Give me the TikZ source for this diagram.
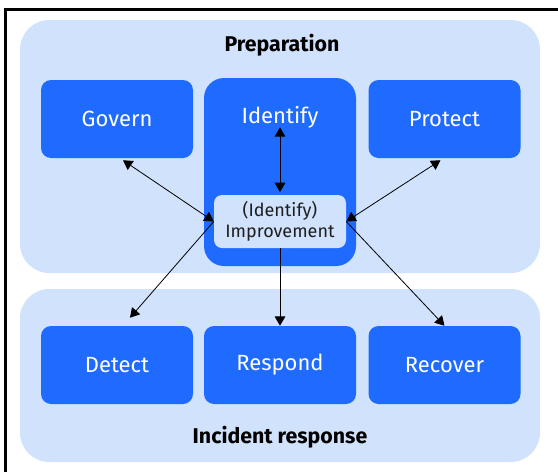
\documentclass[tikz,border=0pt]{standalone}
\usepackage{fontspec}
\setmainfont{Fira Sans}
\usetikzlibrary{arrows.meta}

\definecolor{panelblue}{RGB}{208,226,252}
\definecolor{boxblue}{RGB}{31,107,255}
\definecolor{darktext}{RGB}{30,30,30}

\tikzset{
  panel/.style={fill=panelblue, rounded corners=22pt, minimum width=390pt, inner sep=0pt},
  funcbox/.style={fill=boxblue, rounded corners=7.5pt, minimum width=114pt, minimum height=58.5pt,
    inner sep=0pt, text=white, font=\fontsize{16.5}{18}\selectfont},
  title/.style={font=\fontsize{16}{18}\selectfont\bfseries, text=black},
  biarrow/.style={{Triangle[length=7pt,width=8pt]}-{Triangle[length=7pt,width=8pt]}, line width=0.6pt},
  onearrow/.style={-{Triangle[length=7pt,width=8pt]}, line width=0.6pt}
}

\begin{document}
\begin{tikzpicture}[x=0.75pt,y=0.75pt,yscale=-1,xscale=1]
  \useasboundingbox (0,0) rectangle (558,472);

  % Frame
  \draw [line width=1.9pt] (5.7,472) -- (5.7,9.5) -- (558,9.5) ;

  % Panels
  \node (prep) at (280,146.5) [panel, minimum height=189.75pt] {};
  \node (incident) at (280,375.5) [panel, minimum height=129.75pt] {};

  % Titles
  \node (preptitle) at (282,45) [title] {Preparation};
  \node (incidenttitle) at (280,437) [title] {Incident response};

  % Preparation functions
  \node (govern) at (117,119) [funcbox] {Govern};
  \node (identify) at (280,172) [funcbox, minimum height=141pt, rounded corners=15pt] {};
  \node (identifytext) at (280,117) [text=white, font=\fontsize{16.5}{18}\selectfont] {Identify};
  \node (protect) at (444.5,119) [funcbox] {Protect};

  % Improvement box
  \node (improvement) at (280,221.5) [fill=panelblue, rounded corners=6pt, minimum width=99pt,
    minimum height=39.75pt, inner sep=0pt, align=center, text=darktext,
    font=\fontsize{13.5}{15.5}\selectfont] {(Identify)\\Improvement};

  % Incident response functions
  \node (detect) at (117,365) [funcbox] {Detect};
  \node (respond) at (280,365) [funcbox] {Respond};
  \node (recover) at (444.5,365) [funcbox] {Recover};

  % Connectors
  \draw [biarrow] ([yshift=-4]identifytext.south) -- ([yshift=-2]improvement.north) ;
  \draw [biarrow] ([shift={(6,2)}]govern.south) -- (improvement.west) ;
  \draw [biarrow] ([shift={(-4,2)}]protect.south) -- (improvement.east) ;
  \draw [onearrow] (improvement.west) -- ([shift={(13,-8)}]detect.north) ;
  \draw [onearrow] (improvement.south) -- (respond.north) ;
  \draw [onearrow] (improvement.east) -- (recover.north) ;

\end{tikzpicture}
\end{document}
